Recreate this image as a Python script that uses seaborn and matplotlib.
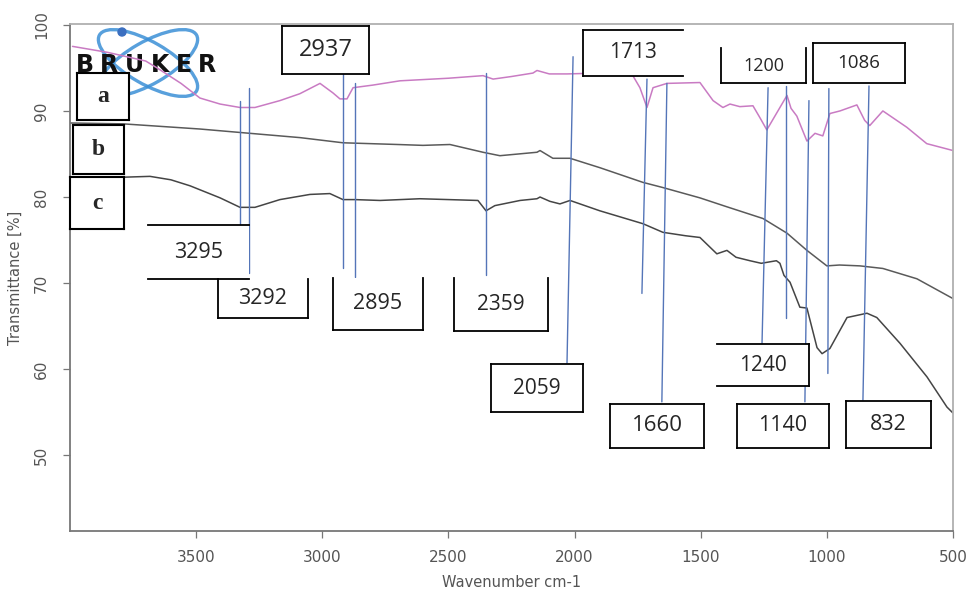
import numpy as np
import pandas as pd
import matplotlib
matplotlib.use("Agg")
import matplotlib.pyplot as plt
import seaborn as sns
from matplotlib.patches import Rectangle, Ellipse, Circle

# ---------------- data ----------------
wn_a = [3990, 3850, 3700, 3655, 3560, 3485, 3405, 3326, 3267, 3168, 3089, 3009, 2958, 2930, 2902,
        2878, 2800, 2692, 2500, 2363, 2323, 2250, 2165, 2149, 2100, 2030, 1900, 1769, 1741, 1713,
        1689, 1634, 1503, 1451, 1412, 1384, 1345, 1293, 1265, 1238, 1206, 1158, 1142, 1119, 1079,
        1047, 1016, 988, 948, 881, 850, 830, 778, 683, 604, 500]
t_a = [97.5, 96.8, 95.8, 95.0, 93.2, 91.5, 90.8, 90.4, 90.4, 91.2, 92.0, 93.2, 92.1, 91.4, 91.4,
       92.7, 93.0, 93.5, 93.8, 94.1, 93.7, 94.0, 94.4, 94.7, 94.3, 94.3, 94.4, 94.1, 92.7, 90.4,
       92.7, 93.2, 93.3, 91.2, 90.4, 90.8, 90.5, 90.6, 89.2, 87.8, 89.4, 91.8, 90.3, 89.4, 86.5,
       87.4, 87.1, 89.7, 90.0, 90.7, 88.9, 88.3, 90.0, 88.1, 86.2, 85.4]

wn_b = [4000, 3790, 3485, 3287, 3088, 2918, 2700, 2601, 2494, 2363, 2296, 2149, 2137, 2086, 2018,
        1899, 1729, 1650, 1503, 1400, 1253, 1158, 1079, 1000, 950, 869, 778, 643, 500]
t_b = [88.6, 88.5, 87.9, 87.4, 86.9, 86.3, 86.1, 86.0, 86.1, 85.2, 84.8, 85.2, 85.4, 84.5, 84.5,
       83.4, 81.7, 81.1, 79.9, 78.9, 77.5, 75.8, 73.8, 72.0, 72.1, 72.0, 71.7, 70.5, 68.2]

wn_c = [4000, 3790, 3683, 3600, 3524, 3405, 3326, 3267, 3168, 3049, 2970, 2918, 2870, 2771, 2613,
        2383, 2351, 2316, 2216, 2149, 2137, 2098, 2058, 2018, 1900, 1729, 1650, 1560, 1503, 1436,
        1396, 1360, 1305, 1260, 1200, 1186, 1170, 1146, 1107, 1079, 1039, 1019, 988, 920, 841,
        802, 710, 603, 524, 500]
t_c = [82.3, 82.3, 82.4, 82.0, 81.3, 79.9, 78.8, 78.8, 79.7, 80.3, 80.4, 79.7, 79.7, 79.6, 79.8,
       79.6, 78.4, 79.0, 79.6, 79.8, 80.0, 79.5, 79.2, 79.6, 78.4, 76.9, 75.9, 75.5, 75.3, 73.4,
       73.8, 73.0, 72.6, 72.3, 72.6, 72.3, 70.9, 70.1, 67.2, 67.1, 62.5, 61.8, 62.4, 66.0, 66.5,
       66.0, 63.0, 59.1, 55.6, 54.9]

sample_names = ["a", "b", "c"]

# peak marker lines (wavenumber / transmittance at top and bottom end)
pk_x_top = [3326, 3290, 2918, 2870, 2351, 2006, 1713, 1634, 1233, 1162, 1071, 992, 833]
pk_x_bot = [3326, 3290, 2918, 2870, 2351, 2030, 1733, 1654, 1257, 1162, 1087, 996, 857]
pk_y_top = [91.2, 92.7, 94.3, 93.2, 94.4, 96.3, 93.7, 93.2, 92.7, 92.9, 91.2, 92.6, 92.9]
pk_y_bot = [76.1, 71.2, 71.8, 70.7, 70.9, 60.7, 68.8, 56.2, 63.0, 65.9, 56.2, 59.5, 56.4]

# peak labels
peak_labels = ["2937", "1713", "1200", "1086", "3295", "3292", "2895", "2359",
               "2059", "1660", "1240", "1140", "832"]

x_ticks = [3500, 3000, 2500, 2000, 1500, 1000, 500]
y_ticks = [50, 60, 70, 80, 90, 100]

# ---------------- styling / layout ----------------
sns.set_style("white")
plt.rcParams['font.family'] = ['DejaVu Sans']

W, H = 969, 589
fig = plt.figure(figsize=(W / 100, H / 100), dpi=100)
L, R, T, B = 70, 953, 24, 531
ax = fig.add_axes([L / W, 1 - B / H, (R - L) / W, (B - T) / H])

df = pd.concat([
    pd.DataFrame({"wn": wn_a, "T": t_a, "sample": "a"}),
    pd.DataFrame({"wn": wn_b, "T": t_b, "sample": "b"}),
    pd.DataFrame({"wn": wn_c, "T": t_c, "sample": "c"}),
], ignore_index=True)

palette = {"a": "#c97bc3", "b": "#5a5a5a", "c": "#454545"}
sns.lineplot(data=df, x="wn", y="T", hue="sample", palette=palette, sort=False,
             estimator=None, legend=False, ax=ax, linewidth=1.1, zorder=2)

ax.set_xlim(4000, 500)
ax.set_ylim(41.2, 100.1)
ax.set_xticks(x_ticks)
ax.set_yticks(y_ticks)
ax.set_xticklabels([str(v) for v in x_ticks])
ax.set_yticklabels([str(v) for v in y_ticks])
ax.tick_params(axis="both", direction="out", length=5, width=0.9, color="#777777",
               labelcolor="#555555", labelsize=11, bottom=True, left=True)
ax.tick_params(axis="x", pad=9)
ax.tick_params(axis="y", labelrotation=90, pad=10)
for lab in ax.get_yticklabels():
    lab.set_va("center")
ax.set_xlabel("Wavenumber cm-1", color="#555555", fontsize=10.5, labelpad=7)
ax.set_ylabel("Transmittance [%]", color="#555555", fontsize=10.5, labelpad=8)

for s in ["left", "bottom"]:
    ax.spines[s].set_color("#777777")
    ax.spines[s].set_linewidth(1.3)
for s in ["top", "right"]:
    ax.spines[s].set_color("#b0b0b0")
    ax.spines[s].set_linewidth(1.3)

# peak marker lines
for xt, xb, yt, yb in zip(pk_x_top, pk_x_bot, pk_y_top, pk_y_bot):
    ax.plot([xt, xb], [yt, yb], color="#5475b8", lw=1.0, zorder=2.5)

# boxes: (x_left, x_right, y_top, y_bottom, sides, fontsize)
box_geom = [
    (3160, 2815, 99.9, 94.3, "LTRB", 17),
    (1967, 1570, 99.4, 94.1, "LTB", 15),
    (1420, 1083, 97.3, 93.2, "LRB", 13),
    (1055, 691, 97.9, 93.2, "LTRB", 13.5),
    (3691, 3290, 76.7, 70.5, "TB", 15.5),
    (3413, 3057, 70.5, 66.0, "LRB", 15.5),
    (2958, 2601, 70.6, 64.6, "LRB", 15.5),
    (2478, 2105, 70.6, 64.4, "LRB", 15),
    (2331, 1967, 60.6, 55.0, "LTRB", 15),
    (1860, 1487, 56.0, 50.8, "LTRB", 16),
    (1436, 1071, 62.9, 58.0, "TRB", 15),
    (1356, 992, 56.0, 50.8, "LTRB", 15.5),
    (924, 587, 56.3, 50.9, "LTRB", 15.5),
]


def draw_box(x0, x1, y0, y1, sides, lw=1.3):
    ax.add_patch(Rectangle((min(x0, x1), y1), abs(x1 - x0), y0 - y1,
                           facecolor="white", edgecolor="none", zorder=3, clip_on=False))
    segs = {"L": ([x0, x0], [y0, y1]), "R": ([x1, x1], [y0, y1]),
            "T": ([x0, x1], [y0, y0]), "B": ([x0, x1], [y1, y1])}
    for s in sides:
        xs, ys = segs[s]
        ax.plot(xs, ys, color="black", lw=lw, zorder=4, clip_on=False,
                solid_capstyle="projecting")


for lab, (x0, x1, y0, y1, sides, fs) in zip(peak_labels, box_geom):
    draw_box(x0, x1, y0, y1, sides)
    ax.text((x0 + x1) / 2, (y0 + y1) / 2, lab, ha="center", va="center",
            fontsize=fs, family=["Open Sans", "DejaVu Sans"], color="#262626", zorder=5)

# sample letter boxes
letter_geom = [(3972, 3766, 94.4, 88.9), (3988, 3786, 88.4, 82.7), (4000, 3786, 82.3, 76.3)]
for name, (x0, x1, y0, y1) in zip(sample_names, letter_geom):
    draw_box(x0, x1, y0, y1, "LTRB", lw=1.5)
    ax.text((x0 + x1) / 2, (y0 + y1) / 2, name, ha="center", va="center", fontsize=17,
            fontweight="bold", family=["Liberation Serif", "DejaVu Serif"], zorder=5)

# Bruker logo, placed in figure pixel coordinates, drawn beneath the boxes
def px(x, y):
    return (x / 100, (H - y) / 100)

tr = fig.dpi_scale_trans
for ang in (30, -30):
    e = Ellipse(px(148, 63), 1.12, 0.42, angle=ang, transform=tr, fill=False,
                edgecolor="#3b8fd6", lw=2.4, zorder=1, alpha=0.85, clip_on=False)
    ax.add_patch(e)
ax.add_patch(Circle(px(122, 32), 0.04, transform=tr, color="#3b6fc0", zorder=1, clip_on=False))
for ch, cx in zip("BRUKER", [85, 109, 134, 160, 184, 207]):
    ax.text(cx / 100, (H - 65) / 100, ch, transform=tr, ha="center", va="center",
            fontsize=17, fontweight="heavy", family=["DejaVu Sans"], color="#111111",
            zorder=1.5, clip_on=False)

fig.savefig("out.png", dpi=100)
